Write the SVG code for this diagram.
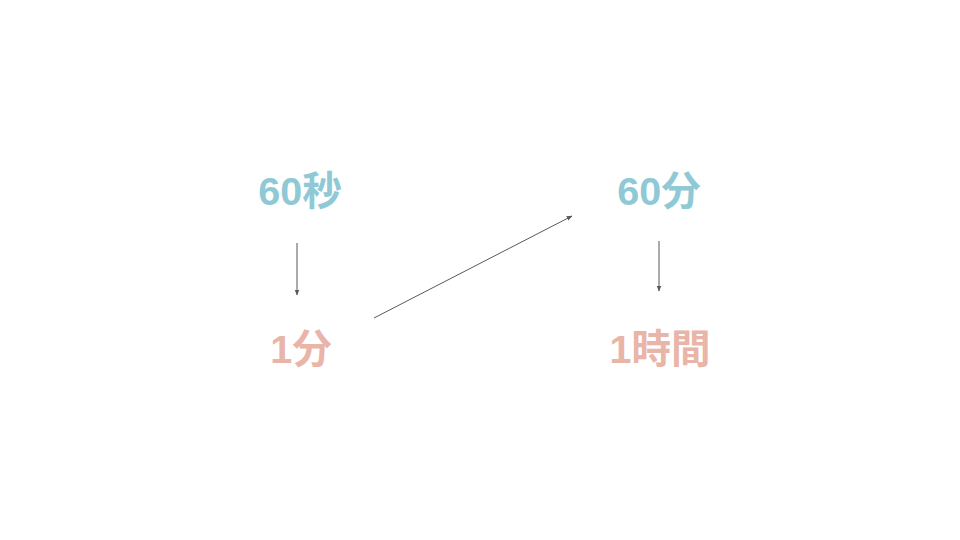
<svg xmlns="http://www.w3.org/2000/svg" width="960" height="540" viewBox="0 0 960 540">
<defs>
<style>
.t{font-family:"Liberation Sans","Noto Sans CJK JP",sans-serif;font-weight:bold;font-size:39.5px;text-anchor:middle}
.b{fill:#8fc9d6}
.p{fill:#e8b5a8}
.c{stroke:#595959;stroke-width:1;fill:none;marker-end:url(#ah)}
</style>
<marker id="ah" viewBox="0 0 10 10" refX="9" refY="5" markerWidth="6" markerHeight="6" markerUnits="userSpaceOnUse" orient="auto">
<path d="M0,1 L10,5 L0,9 Z" fill="#595959"/>
</marker>
</defs>
<rect width="960" height="540" fill="#ffffff"/>
<g id="n60s"><text class="t b" x="300" y="205">60秒</text></g>
<g id="n1m"><text class="t p" x="301" y="363">1分</text></g>
<g id="n60m"><text class="t b" x="659" y="205">60分</text></g>
<g id="n1h"><text class="t p" x="660" y="363">1時間</text></g>
<g id="connectors">
<line class="c" x1="297" y1="243" x2="297" y2="295"/>
<line class="c" x1="374" y1="318" x2="572" y2="216"/>
<line class="c" x1="659" y1="241" x2="659" y2="291"/>
</g>
</svg>
